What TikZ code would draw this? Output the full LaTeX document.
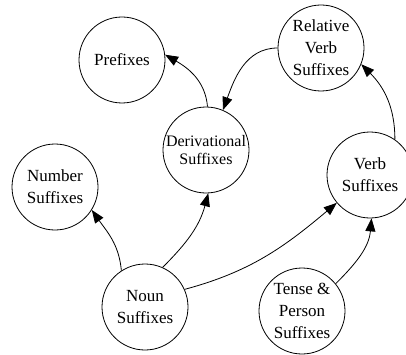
\documentclass[tikz,border=0pt]{standalone}
\usepackage{fontspec}
\setmainfont{Liberation Serif}
\usetikzlibrary{arrows.meta}
\begin{document}
\begin{tikzpicture}[x=1pt,y=1pt,
  circ/.style={circle,draw,line width=0.8pt,minimum size=86pt,inner sep=0pt,align=center,
    font=\fontsize{17}{22}\selectfont},
  conn/.style={line width=0.8pt,-{Triangle[length=13pt,width=10pt]}}]
\useasboundingbox (0,0) rectangle (406,354);
\node[circ] (pre) at (122,294) {Prefixes};
\node[circ] (rel) at (321,306) {Relative\\Verb\\Suffixes};
\node[circ,font=\fontsize{16}{18}\selectfont] (der) at (206,204) {Derivational\\Suffixes};
\node[circ] (num) at (55,167) {Number\\Suffixes};
\node[circ] (verb) at (370,179) {Verb\\Suffixes};
\node[circ] (noun) at (145,47) {Noun\\Suffixes};
\node[circ] (tense) at (302,43) {Tense \&\\Person\\Suffixes};
\draw[conn] (der.88) to[out=95,in=-30] (pre.7);
\draw[conn] (rel.180) to[out=180,in=70] (der.67);
\draw[conn] (verb.55) to[out=90,in=-45] (rel.-22);
\draw[conn] (noun.123) to[out=95,in=-55] (num.-32);
\draw[conn] (noun.66) to[out=45,in=-105] (der.-87);
\draw[conn] (noun.24) to[out=15,in=-140] (verb.220);
\draw[conn] (tense.39) to[out=45,in=-95] (verb.-88);
\end{tikzpicture}
\end{document}
